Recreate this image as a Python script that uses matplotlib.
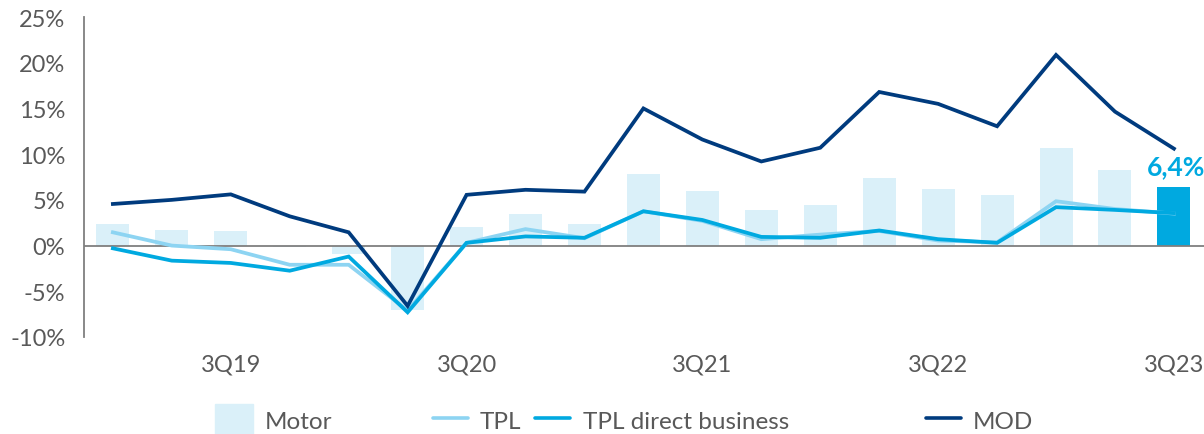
import matplotlib
matplotlib.use("Agg")
import matplotlib.pyplot as plt
from matplotlib.patches import Rectangle
from matplotlib.lines import Line2D
import numpy as np

plt.rcParams['font.family'] = ['Lato', 'DejaVu Sans']

quarters = ["1Q19", "2Q19", "3Q19", "4Q19", "1Q20", "2Q20", "3Q20", "4Q20",
            "1Q21", "2Q21", "3Q21", "4Q21", "1Q22", "2Q22", "3Q22", "4Q22",
            "1Q23", "2Q23", "3Q23"]
tick_labels = ["3Q19", "3Q20", "3Q21", "3Q22", "3Q23"]

motor = [2.4, 1.7, 1.6, -0.2, -0.9, -7.1, 2.0, 3.4, 2.4, 7.8, 6.0, 3.9, 4.4,
         7.4, 6.2, 5.5, 10.7, 8.3, 6.4]
tpl = [1.45, 0.0, -0.4, -2.1, -2.1, -7.1, 0.3, 1.8, 0.8, 3.75, 2.7, 0.7, 1.2,
       1.6, 0.55, 0.35, 4.85, 4.0, 3.5]
tpl_direct = [-0.3, -1.65, -1.9, -2.75, -1.2, -7.3, 0.3, 1.0, 0.85, 3.75, 2.8,
              0.95, 0.85, 1.65, 0.7, 0.3, 4.2, 3.9, 3.55]
mod = [4.55, 5.0, 5.6, 3.2, 1.45, -6.6, 5.55, 6.1, 5.9, 15.0, 11.6, 9.2, 10.7,
       16.8, 15.5, 13.05, 20.85, 14.65, 10.6]

C_BAR = "#DAF0F9"
C_BAR_LAST = "#00A9E0"
C_TPL = "#8DD4F2"
C_TPL_DIRECT = "#00A9E0"
C_MOD = "#003B7E"
C_AXIS = "#7F7F7F"
C_TEXT = "#595959"

fig = plt.figure(figsize=(12.04, 4.35), dpi=100)
ax = fig.add_axes([84 / 1204, 1 - 338 / 435, 1 - 84 / 1204, 320 / 435])

x = np.arange(len(quarters))
colors = [C_BAR] * (len(quarters) - 1) + [C_BAR_LAST]
ax.bar(x, motor, width=0.56, color=colors, zorder=1)
ax.axhline(0, color=C_AXIS, lw=1.3, zorder=2)
ax.plot(x, tpl, color=C_TPL, lw=2.7, zorder=3, solid_joinstyle="miter")
ax.plot(x, tpl_direct, color=C_TPL_DIRECT, lw=2.7, zorder=4, solid_joinstyle="miter")
ax.plot(x, mod, color=C_MOD, lw=2.7, zorder=5, solid_joinstyle="miter")

ax.annotate(f"{motor[-1]:.1f}%".replace(".", ","), xy=(x[-1], motor[-1]),
            xytext=(1.5, 9.5), textcoords="offset points", ha="center", va="baseline",
            fontsize=19, fontweight="bold", color=C_BAR_LAST, annotation_clip=False)

ax.set_xlim(-0.49, len(quarters) - 0.49)
ax.set_ylim(-10, 25)
ax.set_yticks(np.arange(-10, 26, 5))
ax.set_yticklabels([f"{v}%" for v in range(-10, 26, 5)])
ax.set_xticks([quarters.index(t) for t in tick_labels])
ax.set_xticklabels(tick_labels)
ax.tick_params(axis="both", length=0, labelsize=17, colors=C_TEXT)
ax.tick_params(axis="y", pad=13.5)
ax.tick_params(axis="x", pad=12)
for s in ["top", "right", "bottom"]:
    ax.spines[s].set_visible(False)
ax.spines["left"].set_color(C_AXIS)
ax.spines["left"].set_linewidth(1.3)

# Legend built in figure pixel coordinates
W, H = 1204, 435
line_y = 1 - 419 / H
base_y = 1 - 429 / H


def fx(px):
    return px / W


fig.patches.append(Rectangle((fx(215), 0), 38 / W, 30 / H,
                             transform=fig.transFigure, color=C_BAR))
fig.text(fx(265), base_y, "Motor", fontsize=17.5, color=C_TEXT, va="baseline")
for x0, col, label, tx in [(433, C_TPL, "TPL", 480),
                           (535, C_TPL_DIRECT, "TPL direct business", 583),
                           (926, C_MOD, "MOD", 973)]:
    fig.lines.append(Line2D([fx(x0), fx(x0 + 35)], [line_y, line_y],
                            transform=fig.transFigure, color=col, lw=2.6,
                            solid_capstyle="round"))
    fig.text(fx(tx), base_y, label, fontsize=17.5, color=C_TEXT, va="baseline")

fig.savefig("out.png", dpi=100)
